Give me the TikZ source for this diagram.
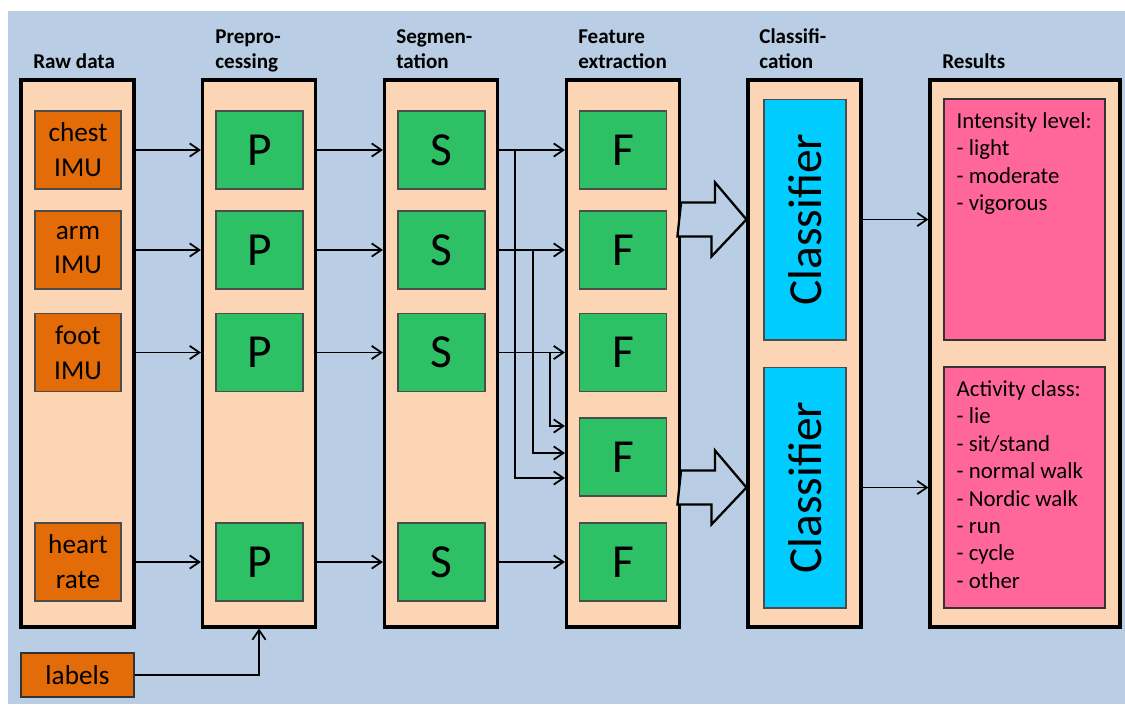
\documentclass[tikz,border=0pt]{standalone}
\usepackage{fontspec}
\setmainfont{Carlito}
\usetikzlibrary{arrows.meta,positioning,calc}
\definecolor{bgblue}{RGB}{185,205,229}
\definecolor{peach}{RGB}{252,213,181}
\definecolor{rawor}{RGB}{227,108,9}
\definecolor{stepgreen}{RGB}{45,192,101}
\definecolor{clfcyan}{RGB}{0,204,255}
\definecolor{respink}{RGB}{255,102,153}
\begin{document}
\begin{tikzpicture}
[x=0.02cm, y=-0.02cm, >={Straight Barb[length=5.5pt,width=7.5pt]}]
\tikzstyle{panel}=[draw, line width=1.8pt, fill=peach, minimum width=2.26cm, minimum height=10.94cm, inner sep=0pt]
\tikzstyle{raw}=[draw=black!70, line width=0.6pt, fill=rawor, minimum width=1.72cm, minimum height=1.56cm, align=center, font=\fontsize{15.5}{19.8}\selectfont]
\tikzstyle{blk}=[draw=black!70, line width=0.6pt, fill=stepgreen, minimum width=1.74cm, minimum height=1.56cm, font=\fontsize{27}{30}\selectfont]
\tikzstyle{clf}=[draw=black!70, line width=0.6pt, fill=clfcyan, minimum width=4.82cm, minimum height=1.64cm, rotate=90, font=\fontsize{27}{30}\selectfont]
\tikzstyle{res}=[draw=black!80, line width=0.8pt, fill=respink, minimum width=3.22cm, minimum height=4.82cm]
\tikzstyle{restext}=[anchor=north west, align=left, inner sep=0pt, font=\fontsize{13}{15.6}\selectfont]
\tikzstyle{head}=[anchor=base west, inner sep=0pt, font=\bfseries\fontsize{12}{14}\selectfont]
\tikzstyle{arr}=[->, line width=1pt]
\tikzstyle{fat}=[line width=1.3pt, fill=bgblue, line join=miter]

\useasboundingbox (0,0) rectangle (1125,704);
\fill[white] (0,0) rectangle (1125,704);
\fill[bgblue] (8,11) rectangle (1125,704);

\node[head]	(hRaw)	at (33,68)	{Raw data};
\node[head]	(hPre1)	at (215,43)	{Prepro-};
\node[head]	(hPre2)	at (215,68)	{cessing};
\node[head]	(hSeg1)	at (396,43)	{Segmen-};
\node[head]	(hSeg2)	at (396,68)	{tation};
\node[head]	(hFea1)	at (578,43)	{Feature};
\node[head]	(hFea2)	at (578,68)	{extraction};
\node[head]	(hCla1)	at (759,43)	{Classifi-};
\node[head]	(hCla2)	at (759,68)	{cation};
\node[head]	(hRes)	at (942,68)	{Results};

\node[panel]	(raw)	at (77.5,353.5)	{};
\node[panel]	(pre)	at (259,353.5)	{};
\node[panel]	(seg)	at (441,353.5)	{};
\node[panel]	(fea)	at (623,353.5)	{};
\node[panel]	(cla)	at (804.5,353.5)	{};
\node[panel, minimum width=3.8cm]	(out)	at (1025,353.5)	{};

\node[raw]	(chest)	at (78,150)	{chest\\IMU};
\node[raw]	(arm)	at (78,250)	{arm\\IMU};
\node[raw]	(foot)	at (78,352.5)	{foot\\IMU};
\node[raw]	(heart)	at (78,562)	{heart\\rate};
\node[raw, draw=black!80, minimum width=2.26cm, minimum height=0.88cm]	(labels)	at (77.5,675)	{labels};

\node[blk]	(P1)	at (259.5,150)	{P};
\node[blk]	(P2)	at (259.5,250)	{P};
\node[blk]	(P3)	at (259.5,352.5)	{P};
\node[blk]	(P4)	at (259.5,562)	{P};

\node[blk]	(S1)	at (441.5,150)	{S};
\node[blk]	(S2)	at (441.5,250)	{S};
\node[blk]	(S3)	at (441.5,352.5)	{S};
\node[blk]	(S4)	at (441.5,562)	{S};

\node[blk]	(F1)	at (623,150)	{F};
\node[blk]	(F2)	at (623,250)	{F};
\node[blk]	(F3)	at (623,352.5)	{F};
\node[blk]	(F4)	at (623,457)	{F};
\node[blk]	(F5)	at (623,562)	{F};

\node[clf]	(clf1)	at (805,219.5)	{Classifier};
\node[clf]	(clf2)	at (805,487.5)	{Classifier};

\node[res]	(int)	at (1024.5,219.5)	{};
\node[res]	(act)	at (1024.5,487.5)	{};
\node[restext]	(intT)	at ([shift={(13,14)}]int.north west)	{Intensity level:\\- light\\- moderate\\- vigorous};
\node[restext]	(actT)	at ([shift={(13,14)}]act.north west)	{Activity class:\\- lie\\- sit/stand\\- normal walk\\- Nordic walk\\- run\\- cycle\\- other};

\draw [arr] (raw.east |- chest)--(pre.west |- P1);
\draw [arr] (raw.east |- arm)--(pre.west |- P2);
\draw [arr] (raw.east |- foot)--(pre.west |- P3);
\draw [arr] (raw.east |- heart)--(pre.west |- P4);
\draw [arr] (labels.east) -| (pre.south);

\draw [arr] (pre.east |- P1)--(seg.west |- S1);
\draw [arr] (pre.east |- P2)--(seg.west |- S2);
\draw [arr] (pre.east |- P3)--(seg.west |- S3);
\draw [arr] (pre.east |- P4)--(seg.west |- S4);

\draw [arr] (seg.east |- S1)--(fea.west |- F1);
\draw [arr] (seg.east |- S2)--(fea.west |- F2);
\draw [arr] (seg.east |- S3)--(fea.west |- F3);
\draw [arr] (seg.east |- S4)--(fea.west |- F5);
\draw [arr] (seg.east |- S1)-- ++(16,0) |- ([yshift=-4.2mm]fea.west |- F4);
\draw [arr] (seg.east |- S2)-- ++(34,0) |- ([yshift=0.8mm]fea.west |- F4);
\draw [arr] (seg.east |- S3)-- ++(51,0) |- ([yshift=6.2mm]fea.west |- F4);

\draw [fat] (fea.east |- clf1) ++(0,-17) -- ++(34,0) -- ++(0,-20) -- (cla.west |- clf1) -- ++(-35,37) -- ++(0,-20) -- ++(-34,0) -- cycle;
\draw [fat] (fea.east |- clf2) ++(0,-17) -- ++(34,0) -- ++(0,-20) -- (cla.west |- clf2) -- ++(-35,37) -- ++(0,-20) -- ++(-34,0) -- cycle;

\draw [arr] (cla.east |- clf1)--(out.west |- clf1);
\draw [arr] (cla.east |- clf2)--(out.west |- clf2);
\end{tikzpicture}
\end{document}
